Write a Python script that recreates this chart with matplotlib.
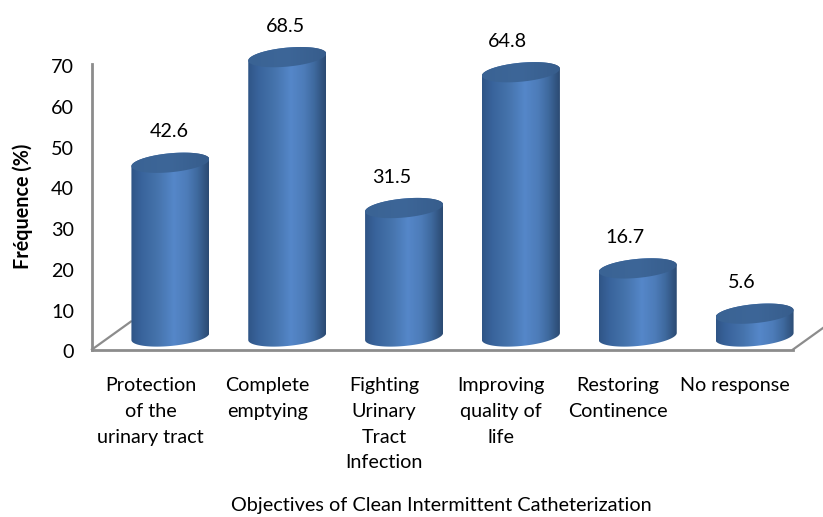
import numpy as np
import matplotlib.pyplot as plt
from matplotlib.colors import LinearSegmentedColormap
from matplotlib.patches import Polygon
from matplotlib.transforms import ScaledTranslation

plt.rcParams['font.family'] = ['Lato', 'DejaVu Sans']

categories = ['Protection\nof the\nurinary tract', 'Complete\nemptying',
              'Fighting\nUrinary\nTract\nInfection', 'Improving\nquality of\nlife',
              'Restoring\nContinence', 'No response']
values = [42.6, 68.5, 31.5, 64.8, 16.7, 5.6]
y_ticks = [0, 10, 20, 30, 40, 50, 60, 70]
# value labels sit a bit right of the tick position, in pixels
label_dx = [19, 18, 8, 7, 7, 7]

W, H = 823, 517
AX_L, AX_R, AX_T, AX_B = 92, 793, 64, 349.5
px_x = (AX_R - AX_L) / 6.0
px_y = (AX_B - AX_T) / 70.0

# fake 3D depth, cylinders stand back from the axis plane
depth_x, depth_y = 20 / px_x, 13 / px_y
half_w = 39 / px_x
ell_b = 9.5 / px_y
ell_tilt = 3.5 / px_y

body_cmap = LinearSegmentedColormap.from_list('body', [
    (0.0, '#2f5586'), (0.12, '#38629a'), (0.35, '#4674ad'), (0.55, '#5587c9'),
    (0.72, '#4d7cb9'), (0.85, '#3f6a9f'), (1.0, '#2b4a72')])
cap_cmap = LinearSegmentedColormap.from_list('cap', ['#3a6394', '#3d6698', '#375d8c'])
grad = np.linspace(0, 1, 256).reshape(1, -1)


def ellipse(cx, cy, t):
    return cx + half_w * np.cos(t), cy + ell_b * np.sin(t) + ell_tilt * np.cos(t)


def gradient_fill(ax, verts, cmap, extent, zorder):
    # imshow clipped to a polygon, the clip box is the whole figure so tall bars
    # can rise above the axes
    patch = Polygon(verts, closed=True, transform=ax.transData,
                    facecolor='none', edgecolor='none', clip_on=False)
    ax.add_patch(patch)
    im = ax.imshow(grad, cmap=cmap, aspect='auto', interpolation='bilinear',
                   extent=extent, zorder=zorder)
    im.set_clip_box(ax.figure.bbox)
    im.set_clip_path(patch)


def cylinder(ax, x, v):
    cx = x + depth_x
    base = depth_y
    top = depth_y + v
    t_low = np.linspace(np.pi, 2 * np.pi, 80)
    t_up = np.linspace(0, np.pi, 80)
    t_all = np.linspace(0, 2 * np.pi, 160)

    # body outline: lower arc of the base, then the top ellipse's upper arc
    bx, by = ellipse(cx, base, t_low)
    ux, uy = ellipse(cx, top, t_up)
    gradient_fill(ax, np.column_stack([np.r_[bx, ux], np.r_[by, uy]]), body_cmap,
                  (cx - half_w, cx + half_w, base - 4, top + 4), 2)

    # top cap
    tx, ty = ellipse(cx, top, t_all)
    gradient_fill(ax, np.column_stack([tx, ty]), cap_cmap,
                  (cx - half_w, cx + half_w, top - 4, top + 4), 3)


fig = plt.figure(figsize=(W / 100, H / 100), dpi=100, facecolor='white')
ax = fig.add_axes([AX_L / W, 1 - AX_B / H, (AX_R - AX_L) / W, (AX_B - AX_T) / H])

x = np.arange(len(categories))
for xi, v in zip(x, values):
    cylinder(ax, xi, v)

ax.set_xlim(-0.5, 5.5)
ax.set_ylim(0, 70)

# floor edges running back from the two front corners
for x0 in (-0.5, 5.5):
    ax.plot([x0, x0 + 39 / px_x], [0, 28 / px_y], color='#8c8c8c', lw=1.6,
            clip_on=False, zorder=1)

for side in ('top', 'right'):
    ax.spines[side].set_visible(False)
for side in ('left', 'bottom'):
    ax.spines[side].set_color('#8c8c8c')
    ax.spines[side].set_linewidth(2)

ax.set_yticks(y_ticks)
ax.set_xticks(x)
ax.set_xticklabels(categories, fontsize=14.2, linespacing=1.62, color='black')
ax.tick_params(axis='both', length=0)
ax.tick_params(axis='x', pad=20)
ax.tick_params(axis='y', labelsize=14.2, pad=13)
# nudge the y tick labels down a little
nudge = ScaledTranslation(0, -2 / 100, fig.dpi_scale_trans)
for lab in ax.get_yticklabels():
    lab.set_transform(lab.get_transform() + nudge)

ax.set_ylabel('Fréquence (%)', fontsize=14.2, fontweight='bold', labelpad=13)
fig.text(441 / W, 1 - 506 / H, 'Objectives of Clean Intermittent Catheterization',
         ha='center', va='center', fontsize=14.3)

for xi, v, dx in zip(x, values, label_dx):
    ax.annotate(f'{v}', (xi, v + depth_y), textcoords='offset pixels',
                xytext=(dx, 31), ha='center', va='center', fontsize=14.2,
                annotation_clip=False, zorder=5)

fig.savefig('out.png', dpi=100, facecolor='white')
